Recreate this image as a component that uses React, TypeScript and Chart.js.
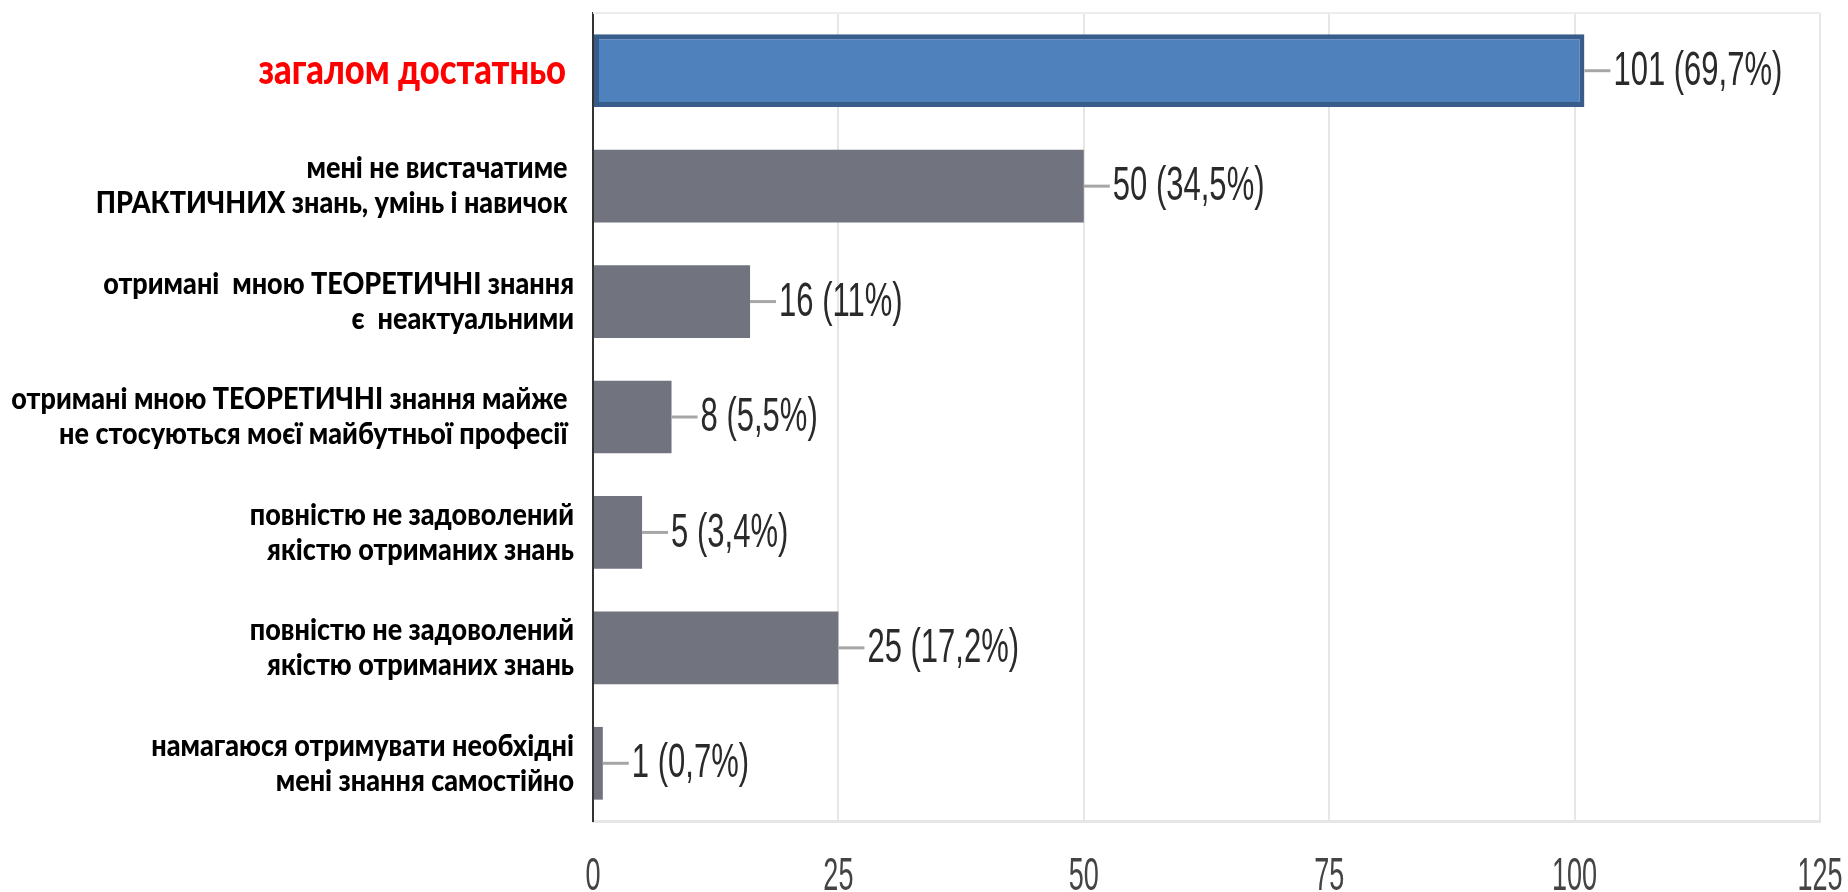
import React, { useEffect, useRef } from "react";
import { Chart, registerables } from "chart.js";

Chart.register(...registerables);

const categories: string[][] = [
  ["загалом достатньо"],
  ["мені не вистачатиме ", "ПРАКТИЧНИХ знань, умінь і навичок "],
  ["отримані  мною ТЕОРЕТИЧНІ знання", "є  неактуальними"],
  ["отримані мною ТЕОРЕТИЧНІ знання майже ", "не стосуються моєї майбутньої професії "],
  ["повністю не задоволений", "якістю отриманих знань"],
  ["повністю не задоволений", "якістю отриманих знань"],
  ["намагаюся отримувати необхідні", "мені знання самостійно"],
];
const values: number[] = [101, 50, 16, 8, 5, 25, 1];
const percents: string[] = ["69,7%", "34,5%", "11%", "5,5%", "3,4%", "17,2%", "0,7%"];
const xTicks: number[] = [0, 25, 50, 75, 100, 125];

const BLUE = "#4F81BD";
const BLUE_BORDER = "#385D8A";
const GRAY = "#71747F";

const textPlugin = {
  id: "customText",
  afterDraw(chart: any) {
    const ctx = chart.ctx as CanvasRenderingContext2D;
    const xScale = chart.scales.x;
    const yScale = chart.scales.y;
    const area = chart.chartArea;
    ctx.save();
    ctx.strokeStyle = "#ececec";
    ctx.lineWidth = 2;
    ctx.beginPath();
    ctx.moveTo(area.left, area.top);
    ctx.lineTo(area.right, area.top);
    ctx.stroke();

    const meta = chart.getDatasetMeta(0);
    meta.data.forEach((el: any, i: number) => {
      const x = el.x;
      const y = el.y;
      ctx.strokeStyle = "#a6a6a6";
      ctx.lineWidth = 3;
      ctx.beginPath();
      ctx.moveTo(x, y);
      ctx.lineTo(x + 26, y);
      ctx.stroke();
      ctx.save();
      ctx.translate(x + 29, y + 1);
      ctx.scale(0.94, 1.45);
      ctx.font = "33px 'Liberation Sans', Arial, sans-serif";
      ctx.fillStyle = "#2a2a2a";
      ctx.textAlign = "left";
      ctx.textBaseline = "middle";
      ctx.fillText(`${values[i]} (${percents[i]})`, 0, 0);
      ctx.restore();
    });

    xTicks.forEach((t) => {
      const px = xScale.getPixelForValue(t);
      ctx.save();
      ctx.translate(px, 877);
      ctx.scale(0.82, 1.42);
      ctx.font = "33px 'Liberation Sans', Arial, sans-serif";
      ctx.fillStyle = "#444444";
      ctx.textAlign = "center";
      ctx.textBaseline = "middle";
      ctx.fillText(String(t), 0, 0);
      ctx.restore();
    });

    categories.forEach((lines, i) => {
      const cy = yScale.getPixelForValue(i);
      const isRed = i === 0;
      const lh = 35;
      const n = lines.length;
      lines.forEach((line, j) => {
        const ly = cy + (j - (n - 1) / 2) * lh;
        ctx.save();
        ctx.translate(isRed ? 566 : 574, ly);
        ctx.scale(isRed ? 0.96 : 1.0, isRed ? 1.15 : 1.12);
        ctx.font = isRed ? "900 36px Lato, sans-serif" : "900 27px Lato, sans-serif";
        ctx.fillStyle = isRed ? "#FF0000" : "#000000";
        ctx.textAlign = "right";
        ctx.textBaseline = "middle";
        ctx.fillText(line, 0, 0);
        ctx.restore();
      });
    });
    ctx.restore();
  },
};

export default function App() {
  const canvasRef = useRef<HTMLCanvasElement | null>(null);

  useEffect(() => {
    const canvas = canvasRef.current;
    if (!canvas) return;
    const chart = new Chart(canvas, {
      type: "bar",
      data: {
        labels: categories.map((c) => c.join(" ")),
        datasets: [
          {
            data: values,
            backgroundColor: values.map((_, i) => (i === 0 ? BLUE : GRAY)),
            borderColor: values.map((_, i) => (i === 0 ? BLUE_BORDER : GRAY)),
            borderWidth: values.map((_, i) => (i === 0 ? 5 : 0)),
            borderSkipped: false,
            barPercentage: 0.63,
            categoryPercentage: 1,
          },
        ],
      },
      options: {
        indexAxis: "y",
        responsive: false,
        animation: false,
        layout: { padding: { left: 593, right: 28, top: 13, bottom: 71 } },
        plugins: {
          legend: { display: false },
          tooltip: { enabled: false },
        },
        scales: {
          x: {
            min: 0,
            max: 125,
            ticks: { display: false, stepSize: 25 },
            grid: { color: "#e6e6e6", lineWidth: 2, drawTicks: false },
            border: { display: true, color: "#e6e6e6", width: 3 },
          },
          y: {
            ticks: { display: false },
            grid: { display: false, drawTicks: false },
            border: { display: true, color: "#333333", width: 2 },
          },
        },
      },
      plugins: [textPlugin],
    });
    return () => chart.destroy();
  }, []);

  return (
    <div style={{ position: "fixed", left: 0, top: 0, width: 1848, height: 892, background: "#ffffff" }}>
      <canvas ref={canvasRef} width={1848} height={892} style={{ width: 1848, height: 892 }} />
    </div>
  );
}
